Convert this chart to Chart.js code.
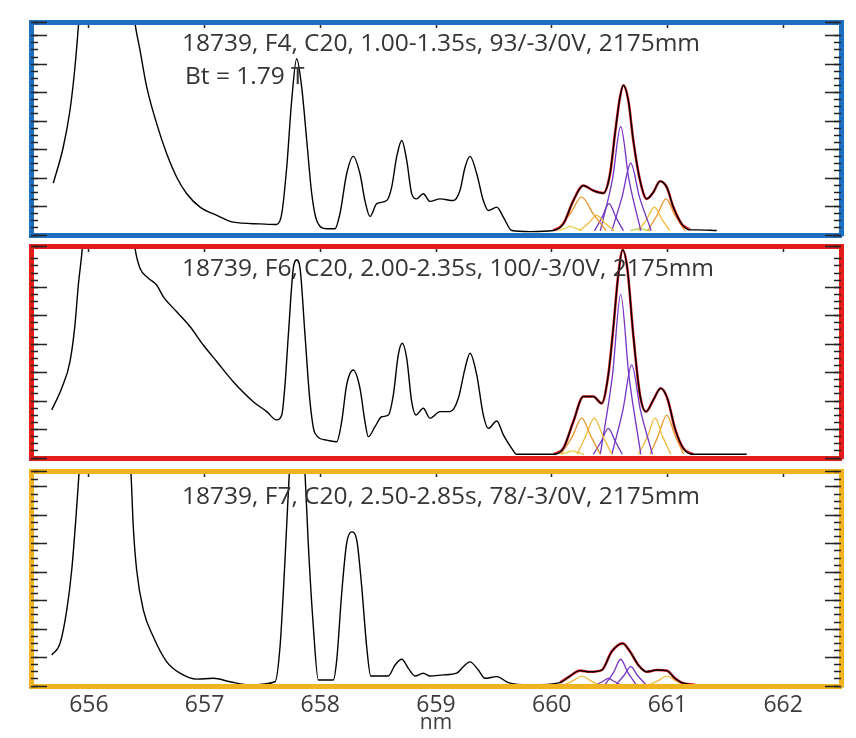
<!DOCTYPE html>
<html>
<head>
<meta charset="utf-8">
<script src="https://cdn.jsdelivr.net/npm/chart.js@4/dist/chart.umd.min.js"></script>
<style>
  body { margin: 0; background: #fff; width: 856px; height: 738px; position: relative; overflow: hidden; }
  canvas { position: absolute; left: 0; }
</style>
</head>
<body>
<canvas id="p1" width="856" height="240" style="top:0px"></canvas>
<canvas id="p2" width="856" height="224" style="top:240px"></canvas>
<canvas id="p3" width="856" height="274" style="top:464px"></canvas>
<script>
// wavelength axis (nm)
const xTickLabels = [656, 657, 658, 659, 660, 661, 662];
const xRange = [655.5, 662.5];
const yTop = [7.48, 7.45, 7.56];

const panelTitles = [
    "18739, F4, C20, 1.00-1.35s, 93/-3/0V, 2175mm",
    "18739, F6, C20, 2.00-2.35s, 100/-3/0V, 2175mm",
    "18739, F7, C20, 2.50-2.85s, 78/-3/0V, 2175mm"
];
const fieldNote = "Bt = 1.79 T";

// F4 spectrum [nm, intensity]
const f4Spectrum = [
    [655.693,1.82],[655.779,3.09],[655.837,4.38],[655.880,5.90],[655.909,7.30],[655.940,9.0],[656.150,20.0],[656.364,8.6],
    [656.399,7.42],[656.442,6.49],[656.500,5.20],[656.586,3.91],[656.673,2.85],[656.759,2.03],[656.846,1.45],[656.961,0.98],
    [657.105,0.69],[657.248,0.45],[657.479,0.39],[657.623,0.37],[657.667,0.75],[657.710,2.38],[657.753,4.73],[657.796,6.19],
    [657.839,5.20],[657.883,3.32],[657.926,1.45],[657.969,0.51],[658.055,0.22],[658.127,0.22],[658.170,0.75],[658.228,2.15],
    [658.285,2.76],[658.343,2.15],[658.386,1.21],[658.430,0.65],[658.488,1.10],[658.574,1.21],[658.617,1.68],[658.660,2.74],
    [658.704,3.32],[658.747,2.62],[658.790,1.45],[658.833,1.27],[658.890,1.45],[658.948,1.18],[659.035,1.27],[659.150,1.21],
    [659.207,1.56],[659.251,2.38],[659.294,2.76],[659.352,2.15],[659.409,1.21],[659.452,0.86],[659.525,0.98],[659.582,0.63],
    [659.654,0.16],[659.812,0.12],[660.014,0.16],[660.100,0.39],[660.187,1.21],[660.273,1.74],[660.359,1.56],[660.446,1.47],
    [660.504,2.15],[660.547,3.56],[660.590,4.84],[660.619,5.26],[660.662,4.73],[660.705,3.32],[660.763,1.92],[660.821,1.27],
    [660.878,1.50],[660.936,1.89],[660.994,1.68],[661.051,0.98],[661.123,0.39],[661.195,0.18],[661.253,0.18],[661.426,0.16]
];
const f4Fit = [
    [660.014,0.16],[660.100,0.39],[660.187,1.21],[660.273,1.74],[660.359,1.56],[660.446,1.47],[660.504,2.15],[660.547,3.56],
    [660.590,4.84],[660.619,5.26],[660.662,4.73],[660.705,3.32],[660.763,1.92],[660.821,1.27],[660.878,1.50],[660.936,1.89],
    [660.994,1.68],[661.051,0.98],[661.123,0.39],[661.195,0.18]
];
const f4Lines = [
    [[660.04,0.15],[660.159,0.74],[660.259,1.33],[660.359,0.74],[660.47,0.15]],
    [[660.24,0.15],[660.319,0.42],[660.389,0.69],[660.459,0.42],[660.54,0.15]],
    [[660.37,0.15],[660.435,0.62],[660.495,1.10],[660.555,0.62],[660.62,0.15]],
    [[660.42,0.15],[660.526,1.98],[660.596,3.81],[660.666,1.98],[660.77,0.15]],
    [[660.52,0.15],[660.608,1.34],[660.683,2.52],[660.758,1.34],[660.86,0.15]],
    [[660.75,0.15],[660.822,0.56],[660.887,0.98],[660.952,0.56],[661.02,0.15]],
    [[660.83,0.15],[660.913,0.71],[660.988,1.27],[661.063,0.71],[661.15,0.15]],
    [[660.06,0.15],[660.12,0.24],[660.16,0.30],[660.20,0.24],[660.26,0.15]],
    [[660.68,0.15],[660.73,0.20],[660.76,0.23],[660.79,0.20],[660.85,0.15]]
];

// F6 spectrum
const f6Spectrum = [
    [655.679,1.69],[655.765,2.45],[655.837,3.39],[655.880,4.68],[655.909,6.08],[655.938,7.14],[655.967,8.5],[656.150,20.0],
    [656.381,8.0],[656.399,7.37],[656.442,6.67],[656.514,6.32],[656.586,6.08],[656.643,5.67],[656.759,5.14],[656.874,4.62],
    [656.989,3.97],[657.105,3.39],[657.248,2.68],[657.421,1.98],[657.537,1.63],[657.623,1.34],[657.667,1.51],[657.695,2.57],
    [657.724,4.32],[657.767,6.67],[657.796,6.96],[657.825,6.67],[657.868,4.32],[657.911,1.98],[657.954,0.87],[658.055,0.63],
    [658.142,0.57],[658.185,1.28],[658.228,2.57],[658.285,3.09],[658.343,2.45],[658.386,1.28],[658.415,0.75],[658.473,1.10],
    [658.531,1.45],[658.588,1.51],[658.631,2.21],[658.674,3.62],[658.709,4.03],[658.747,3.50],[658.790,1.98],[658.827,1.51],
    [658.890,1.75],[658.948,1.40],[659.035,1.63],[659.121,1.63],[659.193,2.10],[659.251,3.15],[659.294,3.68],[659.352,2.92],
    [659.409,1.51],[659.452,1.04],[659.525,1.30],[659.582,0.81],[659.654,0.34],[659.697,0.13],[660.014,0.13],[660.100,0.34],
    [660.187,1.28],[660.273,2.16],[660.359,2.16],[660.432,1.92],[660.489,2.92],[660.532,4.56],[660.575,6.43],[660.613,7.31],
    [660.653,6.67],[660.705,4.32],[660.763,2.21],[660.815,1.63],[660.878,2.04],[660.942,2.45],[660.999,2.10],[661.065,1.04],
    [661.137,0.34],[661.224,0.13],[661.685,0.13]
];
const f6Fit = [
    [660.014,0.13],[660.100,0.34],[660.187,1.28],[660.273,2.16],[660.359,2.16],[660.432,1.92],[660.489,2.92],[660.532,4.56],
    [660.575,6.43],[660.613,7.31],[660.653,6.67],[660.705,4.32],[660.763,2.21],[660.815,1.63],[660.878,2.04],[660.942,2.45],
    [660.999,2.10],[661.065,1.04],[661.137,0.34],[661.224,0.13]
];
const f6Lines = [
    [[660.08,0.13],[660.179,0.76],[660.259,1.40],[660.339,0.76],[660.42,0.13]],
    [[660.22,0.13],[660.293,0.76],[660.368,1.40],[660.443,0.76],[660.52,0.13]],
    [[660.36,0.13],[660.429,0.59],[660.489,1.04],[660.549,0.59],[660.61,0.13]],
    [[660.42,0.13],[660.526,2.94],[660.596,5.75],[660.666,2.94],[660.77,0.13]],
    [[660.52,0.13],[660.616,1.70],[660.691,3.27],[660.766,1.70],[660.87,0.13]],
    [[660.75,0.13],[660.828,0.76],[660.893,1.40],[660.958,0.76],[661.03,0.13]],
    [[660.85,0.13],[660.924,0.82],[660.994,1.51],[661.064,0.82],[661.14,0.13]],
    [[660.08,0.13],[660.14,0.20],[660.18,0.25],[660.22,0.20],[660.28,0.13]]
];

// F7 spectrum
const f7Spectrum = [
    [655.679,1.09],[655.751,1.50],[655.809,2.67],[655.852,4.08],[655.889,5.95],[655.915,7.48],[655.941,9.0],[656.150,25.0],
    [656.338,9.0],[656.364,7.48],[656.384,5.60],[656.413,4.08],[656.471,2.67],[656.557,1.73],[656.673,0.85],[656.788,0.45],
    [656.932,0.24],[657.075,0.27],[657.220,0.15],[657.393,0.04],[657.609,0.15],[657.652,1.38],[657.695,4.43],[657.732,7.48],
    [657.745,8.3],[657.800,10.5],[657.855,8.3],[657.868,7.48],[657.896,5.02],[657.940,2.08],[657.983,0.21],[658.112,0.21],
    [658.142,0.91],[658.185,3.26],[658.228,5.02],[658.271,5.42],[658.315,5.13],[658.358,3.49],[658.401,1.38],[658.436,0.35],
    [658.588,0.35],[658.646,0.74],[658.704,0.94],[658.761,0.62],[658.819,0.35],[658.890,0.45],[658.948,0.35],[659.063,0.39],
    [659.179,0.45],[659.236,0.68],[659.294,0.85],[659.366,0.56],[659.423,0.27],[659.525,0.33],[659.625,0.12],[659.812,0.04],
    [660.072,0.12],[660.158,0.35],[660.244,0.54],[660.331,0.50],[660.432,0.56],[660.518,1.21],[660.613,1.50],[660.677,1.21],
    [660.748,0.74],[660.821,0.50],[660.907,0.56],[660.994,0.54],[661.065,0.27],[661.123,0.12],[661.238,0.04]
];
const f7Fit = [
    [660.072,0.12],[660.158,0.35],[660.244,0.54],[660.331,0.50],[660.432,0.56],[660.518,1.21],[660.613,1.50],[660.677,1.21],
    [660.748,0.74],[660.821,0.50],[660.907,0.56],[660.994,0.54],[661.065,0.27],[661.123,0.12],[661.238,0.04]
];
const f7Lines = [
    [[660.115,0.05],[660.19,0.20],[660.259,0.35],[660.33,0.20],[660.40,0.05]],
    [[660.39,0.05],[660.44,0.16],[660.489,0.27],[660.54,0.16],[660.59,0.05]],
    [[660.46,0.05],[660.536,0.49],[660.596,0.94],[660.656,0.49],[660.73,0.05]],
    [[660.556,0.05],[660.623,0.36],[660.683,0.68],[660.743,0.36],[660.815,0.05]],
    [[660.85,0.05],[660.925,0.20],[660.994,0.35],[661.065,0.20],[661.135,0.05]]
];

// colours
const ORANGE = "#e8952c", GOLD = "#efbb3a", PURPLE = "#7434c4", LIME = "#b5d24a", YELLOW = "#e9cf45";
const f4Colors = [ORANGE, GOLD, PURPLE, PURPLE, PURPLE, GOLD, ORANGE, YELLOW, LIME];
const f6Colors = [ORANGE, GOLD, PURPLE, PURPLE, PURPLE, GOLD, ORANGE, YELLOW];
const f7Colors = [GOLD, PURPLE, PURPLE, PURPLE, GOLD];

Chart.defaults.font.family = "'Open Sans', sans-serif";

// text inside the frames
const panelNotes = {
    id: "panelNotes",
    afterDraw(chart, args, opts) {
        const ctx = chart.ctx;
        ctx.save();
        ctx.font = "24.5px 'Open Sans'";
        ctx.fillStyle = "#353535";
        ctx.textBaseline = "middle";
        opts.lines.forEach(l => ctx.fillText(l.text, l.x, l.y));
        ctx.restore();
    }
};

function makePanel(id, spectrum, fit, lines, colors, frame, yMax, pad, notes, showAxis) {
    const noWidth = s => { s.width = 0; };
    const noHeight = s => { s.height = 0; };
    const intTicks = s => { s.ticks = xTickLabels.map(v => ({ value: v })); };

    const yAxis = (pos, len, major) => ({
        type: "linear", position: pos, min: 0, max: yMax,
        ticks: { display: false, stepSize: major ? 1 : 0.25 },
        grid: { drawOnChartArea: false, tickLength: -len, tickColor: "#222", tickWidth: 1.5, z: 1 },
        border: major ? { color: frame, width: 5, z: 1 } : { display: false },
        afterFit: noWidth
    });

    const datasets = [
        { data: spectrum, borderColor: "#000", borderWidth: 1.4 },
        { data: fit, borderColor: "#e3262a", borderWidth: 2.6 }
    ].concat(lines.map((d, i) => ({ data: d, borderColor: colors[i], borderWidth: 1.3 })));
    datasets.forEach(d => {
        d.pointRadius = 0;
        d.fill = false;
        d.cubicInterpolationMode = "monotone";
    });

    new Chart(document.getElementById(id), {
        type: "line",
        data: { datasets: datasets },
        options: {
            responsive: false,
            animation: false,
            devicePixelRatio: 1,
            layout: { padding: pad },
            plugins: {
                legend: { display: false },
                tooltip: { enabled: false },
                panelNotes: { lines: notes }
            },
            scales: {
                x: {
                    type: "linear", position: "bottom", min: xRange[0], max: xRange[1],
                    afterBuildTicks: intTicks,
                    ticks: { display: showAxis, padding: 6, maxRotation: 0, color: "#3c3c3c", font: { size: 23 } },
                    grid: { drawOnChartArea: false, drawTicks: false },
                    border: { color: frame, width: 5, z: 1 },
                    title: { display: showAxis, text: "nm", color: "#3c3c3c", font: { size: 21 }, padding: { top: 0, bottom: 2 } },
                    afterFit: showAxis ? (s => { s.height = 52; }) : noHeight
                },
                xt: {
                    type: "linear", position: "top", min: xRange[0], max: xRange[1],
                    afterBuildTicks: intTicks,
                    ticks: { display: false },
                    grid: { drawOnChartArea: false, tickLength: -6, tickColor: "#222", tickWidth: 1.5, z: 1 },
                    border: { color: frame, width: 5, z: 1 },
                    afterFit: noHeight
                },
                y: yAxis("left", 16, true),
                ym: yAxis("left", 7, false),
                yr: yAxis("right", 16, true),
                yrm: yAxis("right", 7, false)
            }
        },
        plugins: [panelNotes]
    });
}

makePanel("p1", f4Spectrum, f4Fit, f4Lines, f4Colors, "#1e6fc0", yTop[0],
    { left: 31, right: 15, top: 22, bottom: 5 },
    [{ text: panelTitles[0], x: 182, y: 44 }, { text: fieldNote, x: 185, y: 77 }], false);

makePanel("p2", f6Spectrum, f6Fit, f6Lines, f6Colors, "#e41b1b", yTop[1],
    { left: 31, right: 15, top: 6, bottom: 6 },
    [{ text: panelTitles[1], x: 182, y: 29 }], false);

makePanel("p3", f7Spectrum, f7Fit, f7Lines, f7Colors, "#f2b321", yTop[2],
    { left: 31, right: 15, top: 7, bottom: 0 },
    [{ text: panelTitles[2], x: 182, y: 33 }], true);
</script>
</body>
</html>
